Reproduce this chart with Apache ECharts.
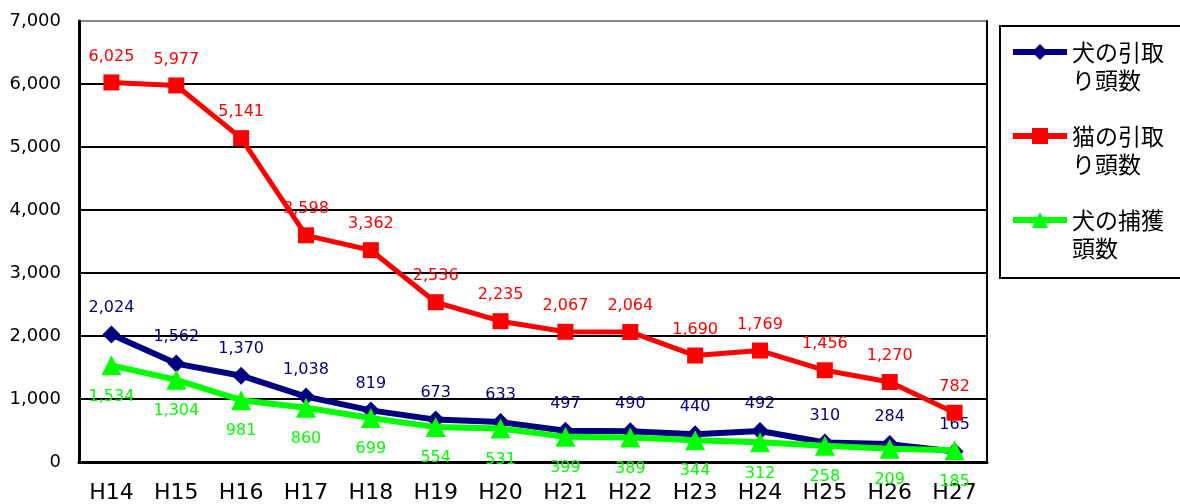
<!DOCTYPE html>
<html><head><meta charset="utf-8">
<script src="https://cdn.jsdelivr.net/npm/echarts@6/dist/echarts.min.js"></script>
<style>html,body{margin:0;padding:0;background:#fff}#c{width:1180px;height:504px}</style>
</head><body><div id="c"></div>
<script>
var categories = ['H14','H15','H16','H17','H18','H19','H20','H21','H22','H23','H24','H25','H26','H27'];
var dogIntake = [2024,1562,1370,1038,819,673,633,497,490,440,492,310,284,165];
var catIntake = [6025,5977,5141,3598,3362,2536,2235,2067,2064,1690,1769,1456,1270,782];
var dogCapture = [1534,1304,981,860,699,554,531,399,389,344,312,258,209,185];
var seriesNames = ['犬の引取\nり頭数','猫の引取\nり頭数','犬の捕獲\n頭数'];
var yTicks = [0,1000,2000,3000,4000,5000,6000,7000];

function fmt(v){ return String(v).replace(/\B(?=(\d{3})+(?!\d))/g, ','); }
var FONT = '"Noto Sans CJK JP", "Noto Sans", sans-serif';
var NUMFONT = '"DejaVu Sans", sans-serif';

var chart = echarts.init(document.getElementById('c'));
chart.setOption({
  animation: false,
  textStyle: { fontFamily: FONT },
  grid: { left: 79, right: 193, top: 21, bottom: 41 },
  graphic: [{
    type: 'rect', shape: { x: 1000, y: 26, width: 200, height: 252 },
    style: { fill: 'none', stroke: '#000', lineWidth: 2 }
  }],
  legend: {
    orient: 'vertical', left: 1010, top: 10, itemGap: 0, padding: 0,
    itemWidth: 54, itemHeight: 20,
    data: seriesNames,
    lineStyle: { width: 6 },
    formatter: function(n){ return '\u3000\n' + n; },
    textStyle: { fontSize: 23, color: '#000', lineHeight: 28, fontFamily: FONT }
  },
  xAxis: {
    type: 'category', data: categories, boundaryGap: true,
    axisLine: { lineStyle: { color: '#000', width: 3 } },
    axisTick: { inside: true, length: 7, lineStyle: { color: '#000', width: 2 } },
    axisLabel: { fontSize: 22, color: '#000', margin: 20, fontFamily: NUMFONT }
  },
  yAxis: [{
    type: 'value', min: 0, max: 7000, interval: 1000,
    axisLine: { show: true, lineStyle: { color: '#000', width: 3 } },
    axisTick: { show: false },
    axisLabel: { fontSize: 18, color: '#000', margin: 18, formatter: fmt, fontFamily: NUMFONT },
    splitLine: { lineStyle: { color: ['#000','#000','#000','#000','#000','#000','#000','#888'], width: 2 } }
  }, {
    type: 'value', min: 0, max: 7000, interval: 1000, position: 'right',
    axisLine: { show: true, lineStyle: { color: '#000', width: 2 } },
    axisTick: { show: false }, axisLabel: { show: false }, splitLine: { show: false }
  }],
  series: [{
    name: seriesNames[0], type: 'line', data: dogIntake, z: 3,
    symbol: 'diamond', symbolSize: 18,
    lineStyle: { color: '#000080', width: 6 }, itemStyle: { color: '#000080' },
    label: { show: true, position: 'top', distance: 10, color: '#000080', fontSize: 16, fontFamily: NUMFONT, formatter: function(p){ return fmt(p.value); } }
  }, {
    name: seriesNames[1], type: 'line', data: catIntake, z: 4,
    symbol: 'rect', symbolSize: 16,
    lineStyle: { color: '#ff0000', width: 5 }, itemStyle: { color: '#ff0000' },
    label: { show: true, position: 'top', distance: 10, color: '#ff0000', fontSize: 16, fontFamily: NUMFONT, formatter: function(p){ return fmt(p.value); } }
  }, {
    name: seriesNames[2], type: 'line', data: dogCapture, z: 5,
    symbol: 'triangle', symbolSize: 20,
    lineStyle: { color: '#00ff00', width: 6 }, itemStyle: { color: '#00ff00' },
    label: { show: true, position: 'bottom', distance: 13, color: '#00ff00', fontSize: 16, fontFamily: NUMFONT, formatter: function(p){ return fmt(p.value); } }
  }]
});
</script></body></html>
